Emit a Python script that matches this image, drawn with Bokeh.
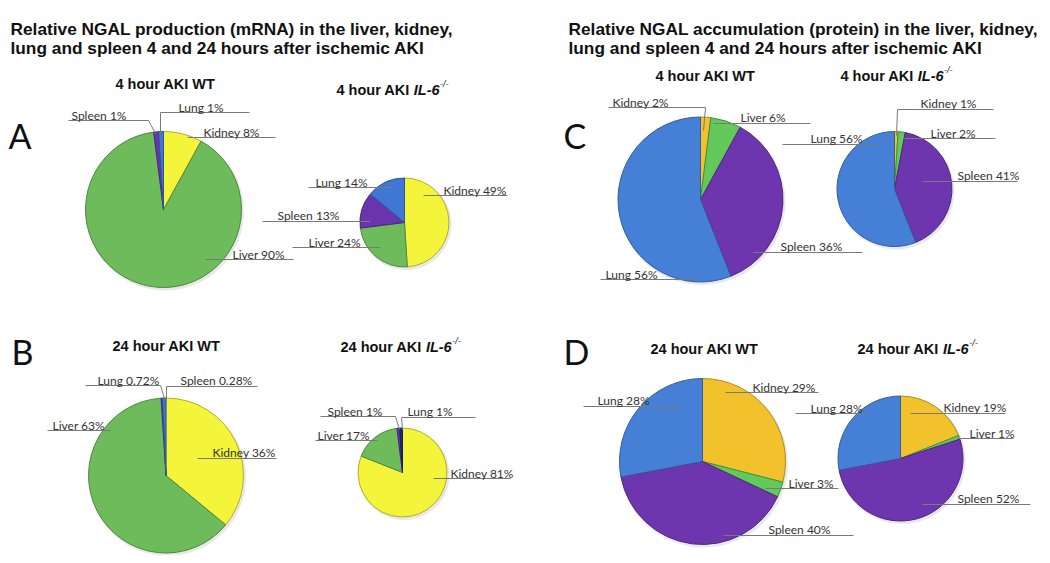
import math
from bokeh.plotting import figure
from bokeh.models import Range1d, ColumnDataSource
from bokeh.core.properties import value
from bokeh.embed import file_html
from bokeh.resources import INLINE

# ---------------- data ----------------
tissues = ["Kidney", "Liver", "Spleen", "Lung"]

mrna_4h_wt = [8, 90, 1, 1]
mrna_4h_il6 = [49, 24, 13, 14]
mrna_24h_wt = [36, 63, 0.28, 0.72]
mrna_24h_il6 = [81, 17, 1, 1]

prot_4h_wt = [2, 6, 36, 56]
prot_4h_il6 = [1, 2, 41, 56]
prot_24h_wt = [29, 3, 40, 28]
prot_24h_il6 = [19, 1, 52, 28]

title_left = ["Relative NGAL production (mRNA) in the liver, kidney,",
              "lung and spleen 4 and 24 hours after ischemic AKI"]
title_right = ["Relative NGAL accumulation (protein) in the liver, kidney,",
               "lung and spleen 4 and 24 hours after ischemic AKI"]
panel_letters = ["A", "B", "C", "D"]

# ---------------- styles ----------------
mrna_colors = ["#F4F43A", "#6DBB5B", "#6A34AE", "#3F78D4"]
mrna_colors_24il6 = ["#F4F43A", "#6DBB5B", "#6A34AE", "#1E2A7E"]
prot_colors = ["#F2C22C", "#62C95A", "#6E36AE", "#4680D6"]

def darker(hexc, f=0.72):
    r, g, b = int(hexc[1:3], 16), int(hexc[3:5], 16), int(hexc[5:7], 16)
    return "#%02x%02x%02x" % (int(r * f), int(g * f), int(b * f))

W, H = 1042, 555
def Y(v):
    return H - v

p = figure(width=W, height=H, output_backend="svg", toolbar_location=None,
           x_range=Range1d(0, W), y_range=Range1d(0, H),
           x_axis_location=None, y_axis_location=None, min_border=0)
p.outline_line_color = None
p.xgrid.visible = False
p.ygrid.visible = False
p.background_fill_color = "white"

# pie layout: values, colors, centre x, centre y, radius, label layout
# label layout per slice: (text_x, text_baseline_y, leader polyline)
pies = [
    (mrna_4h_wt, mrna_colors, 163, 209, 78, [
        (203, 132, [(187, 137), (275, 137)]),
        (232, 254, [(205, 259), (293, 259)]),
        (71, 115, [(68, 120), (148, 120), (155, 133)]),
        (178, 107, [(249, 112), (160, 112), (160, 132)]),
    ]),
    (mrna_4h_il6, mrna_colors, 404, 222, 44.5, [
        (443, 190, [(423, 195), (507, 195)]),
        (308, 242, [(292, 247), (380, 247)]),
        (277, 215, [(262, 221), (370, 221)]),
        (315, 182, [(308, 187), (393, 187)]),
    ]),
    (mrna_24h_wt, mrna_colors, 165.5, 475, 77.5, [
        (212, 452, [(197, 458), (276, 458)]),
        (52, 425, [(47, 430), (110, 430)]),
        (180, 380, [(257, 386), (166, 386), (166, 398)]),
        (97, 380, [(85, 385), (160, 385), (164, 398)]),
    ]),
    (mrna_24h_il6, mrna_colors_24il6, 402, 472, 44.5, [
        (450, 473, [(433, 478), (510, 478)]),
        (317, 435, [(315, 440), (377, 440)]),
        (327, 411, [(320, 416), (395, 416), (399, 429)]),
        (407, 411, [(475, 417), (401, 417), (402, 429)]),
    ]),
    (prot_4h_wt, prot_colors, 700, 199, 82.5, [
        (612, 102, [(608, 107), (705, 107), (703, 130)]),
        (740, 117, [(713, 123), (810, 123)]),
        (780, 246, [(753, 252), (862, 252)]),
        (605, 274, [(600, 279), (693, 279)]),
    ]),
    (prot_4h_il6, prot_colors, 894, 188.5, 57.5, [
        (920, 103, [(993, 109), (897, 109), (896, 135)]),
        (930, 133, [(903, 138), (995, 138)]),
        (957, 175, [(922, 181), (1017, 181)]),
        (810, 138, [(782, 144), (877, 144)]),
    ]),
    (prot_24h_wt, prot_colors, 702, 461, 83, [
        (752, 387, [(725, 392), (818, 392)]),
        (788, 483, [(765, 488), (838, 488)]),
        (768, 529, [(723, 535), (853, 535)]),
        (597, 400, [(583, 406), (680, 406)]),
    ]),
    (prot_24h_il6, prot_colors, 900, 458, 62.5, [
        (943, 407, [(910, 413), (1005, 413)]),
        (969, 433, [(957, 438), (1013, 438)]),
        (957, 498, [(922, 504), (1030, 504)]),
        (810, 408, [(795, 413), (865, 413)]),
    ]),
]

lx, ly, lt = [], [], []
mxs, mys = [], []
for vals, cols, cx, cy, r, labs in pies:
    total = float(sum(vals))
    starts, ends = [], []
    cum = 0.0
    for v in vals:
        starts.append(math.pi / 2 - 2 * math.pi * cum / total)
        cum += v
        ends.append(math.pi / 2 - 2 * math.pi * cum / total)
    src = ColumnDataSource(dict(
        x=[cx] * len(vals), y=[Y(cy)] * len(vals), r=[r] * len(vals),
        s=starts, e=ends, c=cols, lc=[darker(c) for c in cols]))
    # soft shadow
    p.circle(x=cx + 1.5, y=Y(cy) - 2, radius=r + 1, fill_color="#d8d8d8",
             line_color=None, fill_alpha=0.6)
    p.wedge(x="x", y="y", radius="r", start_angle="s", end_angle="e",
            direction="clock", fill_color="c", line_color="lc", line_width=1,
            source=src)
    for t, v, (tx, ty, pts) in zip(tissues, vals, labs):
        lx.append(tx)
        ly.append(Y(ty))
        lt.append(f"{t} {v:g}%")
        mxs.append([q[0] for q in pts])
        mys.append([Y(q[1]) for q in pts])

p.multi_line(xs=mxs, ys=mys, line_color="#7a7a7a", line_width=1)
p.text(x=lx, y=ly, text=lt, text_font=value("Lato"), text_font_size="12px",
       text_baseline="alphabetic", text_align="left", text_color="#333333")

# titles
TF = value("Liberation Sans")
for i, line in enumerate(title_left):
    p.text(x=[10], y=[Y(28 + 19 * i)], text=[line], text_font=TF,
           text_font_size="17.3px", text_font_style="bold",
           text_baseline="alphabetic", text_color="#111111")
for i, line in enumerate(title_right):
    p.text(x=[568], y=[Y(28 + 19 * i)], text=[line], text_font=TF,
           text_font_size="17.3px", text_font_style="bold",
           text_baseline="alphabetic", text_color="#111111")

# subtitles
SUB = 14.5
wt_subs = [("4 hour AKI WT", 115, 83), ("24 hour AKI WT", 112, 345),
           ("4 hour AKI WT", 655, 75), ("24 hour AKI WT", 650, 348)]
for txt, x0, yb in wt_subs:
    p.text(x=[x0], y=[Y(yb)], text=[txt], text_font=TF,
           text_font_size=f"{SUB}px", text_font_style="bold",
           text_baseline="alphabetic", text_color="#111111")

il6_subs = [("4 hour AKI ", 336, 89), ("24 hour AKI ", 340, 346),
            ("4 hour AKI ", 840, 75), ("24 hour AKI ", 857, 348)]
for txt, x0, yb in il6_subs:
    w1 = (5.334 + (0.556 if txt.startswith("24") else 0)) * SUB
    w2 = 1.778 * SUB
    p.text(x=[x0], y=[Y(yb)], text=[txt], text_font=TF,
           text_font_size=f"{SUB}px", text_font_style="bold",
           text_baseline="alphabetic", text_color="#111111")
    p.text(x=[x0 + w1], y=[Y(yb)], text=["IL-6"], text_font=TF,
           text_font_size=f"{SUB}px", text_font_style="bold italic",
           text_baseline="alphabetic", text_color="#111111")
    p.text(x=[x0 + w1 + w2 + 0.5], y=[Y(yb - 6)], text=["-/-"], text_font=TF,
           text_font_size="9px", text_font_style="italic",
           text_baseline="alphabetic", text_color="#111111")

# panel letters
letter_pos = [(8, 135), (11, 351), (563, 135), (563, 351)]
for L, (x0, yb) in zip(panel_letters, letter_pos):
    p.text(x=[x0], y=[Y(yb)], text=[L], text_font=value("Lato"),
           text_font_size="34px", text_baseline="alphabetic",
           text_color="#111111")

open("out.html", "w").write(file_html(p, INLINE))
